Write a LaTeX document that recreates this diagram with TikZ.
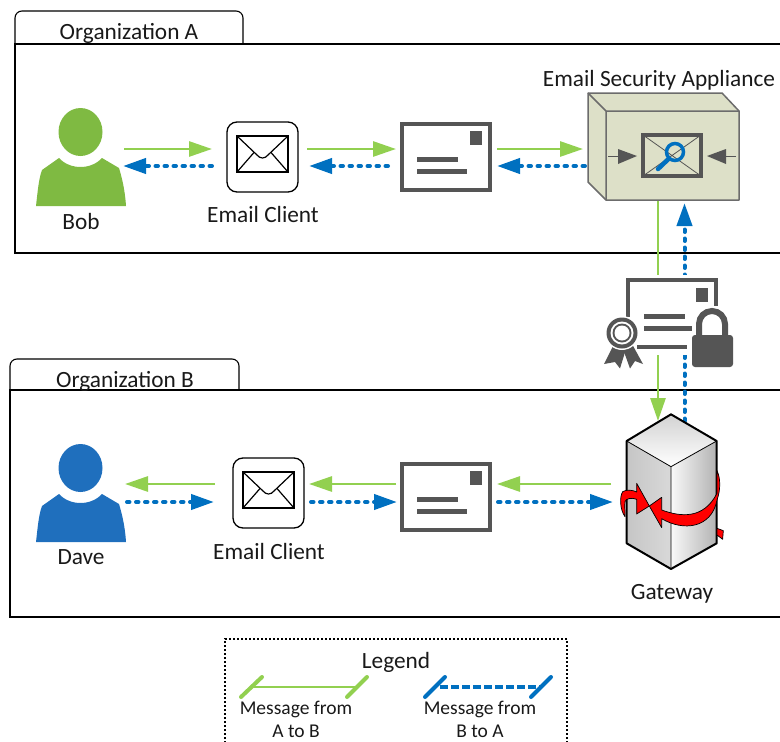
\documentclass[tikz,border=0pt]{standalone}
\usepackage{fontspec}
\setmainfont{Carlito}
\usetikzlibrary{arrows.meta,calc}
\definecolor{agreen}{RGB}{146,208,80}
\definecolor{ablue}{RGB}{0,112,192}
\definecolor{pgreen}{RGB}{127,186,66}
\definecolor{pblue}{RGB}{31,111,189}
\definecolor{dgray}{RGB}{85,85,85}
\definecolor{beige}{RGB}{221,224,200}
\definecolor{txt}{RGB}{25,25,25}
\tikzset{
  ga/.style={draw=agreen,line width=2.8pt,-{Triangle[length=23pt,width=15pt,fill=agreen]}},
  ba/.style={draw=ablue,line width=4pt,line cap=round,dash pattern=on 2.5pt off 6.5pt,-{Triangle[length=23pt,width=15pt,fill=ablue,line cap=butt]}},
  anchorbox/.style={inner sep=0pt,outer sep=0pt,draw=none},
  lab/.style={font=\fontsize{23.3}{26}\selectfont,text=txt,inner sep=0pt},
  leglab/.style={font=\fontsize{19.5}{22}\selectfont,text=txt,inner sep=0pt},
  frame/.style={draw=black,line width=1.1pt},
}
\newcommand{\personicon}[1]{%
  \fill[#1] (80.5,132) ellipse [x radius=22,y radius=24];
  \fill[#1] (36,206) .. controls (38,188) and (39,178) .. (42,170) -- (59,158)
     .. controls (70,170) and (91,170) .. (102,158) -- (119,168)
     .. controls (122,178) and (125,190) .. (126,206) -- cycle;
}
\newcommand{\mailicon}{%
  \draw[black,line width=1.3pt,rounded corners=10pt] (227,122) rectangle (298,192);
  \draw[black,line width=1.4pt] (237,136) rectangle (288,172);
  \draw[black,line width=1.2pt,line join=round] (237,136) -- (257,155) .. controls (260,159) and (265,159) .. (268,155) -- (288,136);
  \draw[black,line width=1.2pt] (237,172) -- (254,152.5) (288,172) -- (271,152.5);
}
\newcommand{\lettericon}{%
  \draw[dgray,line width=4.5pt] (402,124) rectangle (490,190);
  \fill[dgray] (470,131) rectangle (482,145);
  \fill[dgray] (417,157) rectangle (458,162);
  \fill[dgray] (417,169) rectangle (467,174);
}
\begin{document}
\begin{tikzpicture}[x=1pt,y=-1pt]
\path[use as bounding box] (0,0) rectangle (780,742);
\clip (0,0) rectangle (780,742);
% organisation frames
\draw[frame,rounded corners=7pt] (15,44) -- (15,11) -- (243,11) -- (243,44);
\draw[frame] (781,44) -- (15,44) -- (15,253) -- (781,253);
\draw[frame,rounded corners=7pt] (10,390) -- (10,359) -- (239,359) -- (239,390);
\draw[frame] (781,390) -- (10,390) -- (10,617) -- (781,617);
\node[lab] (orgA) at (129,33) {Organization A};
\node[lab] (orgB) at (125,381) {Organization B};
% anchor nodes
\node[anchorbox,minimum width=90pt,minimum height=96pt] (bob) at (81,158) {};
\node[anchorbox,minimum width=71pt,minimum height=70pt] (clA) at (262.5,157) {};
\node[anchorbox,minimum width=92pt,minimum height=70pt] (letA) at (446,157) {};
\node[anchorbox,minimum width=151pt,minimum height=107pt] (esa) at (663.5,146.5) {};
\node[anchorbox,minimum width=90pt,minimum height=96pt] (dave) at (81,494) {};
\node[anchorbox,minimum width=71pt,minimum height=70pt] (clB) at (268.5,493) {};
\node[anchorbox,minimum width=92pt,minimum height=70pt] (letB) at (446,497) {};
\node[anchorbox,minimum width=90pt,minimum height=155pt] (gw) at (672,491.5) {};
% row 1
\draw[ga] ([shift={(-2,-9)}]bob.east) -- ([shift={(-15,-8)}]clA.west);
\draw[ba] ([shift={(-15,9)}]clA.west) -- ([shift={(-3,8)}]bob.east);
\draw[ga] ([shift={(9,-8)}]clA.east) -- ([shift={(-4,-8)}]letA.west);
\draw[ba] ([shift={(-12,9)}]letA.west) -- ([shift={(11,9)}]clA.east);
\draw[ga] ([shift={(5,-8)}]letA.east) -- ([shift={(-5,2.5)}]esa.west);
\draw[ba] ([shift={(-3,19.5)}]esa.west) -- ([shift={(5,9)}]letA.east);
% between organisations
\coordinate (gA) at ($(esa.south)+(-5.5,0)$);
\coordinate (gB) at ($(gw.north)+(-14,7)$);
\coordinate (bA) at ($(esa.south)+(21,3)$);
\coordinate (bB) at ($(gw.north)+(12.5,16)$);
\draw[ga] (gA) -- (gB);
\draw[ba] (bB) -- (bA);
% row 2
\draw[ga] ([shift={(-18,-9)}]clB.west) -- ([shift={(-1,-10)}]dave.east);
\draw[ba] ([shift={(1,8)}]dave.east) -- ([shift={(-19,9)}]clB.west);
\draw[ga] ([shift={(-4,-13)}]letB.west) -- ([shift={(5,-9)}]clB.east);
\draw[ba] ([shift={(7,9)}]clB.east) -- ([shift={(-3,5)}]letB.west);
\draw[ga] ([shift={(-16,-7.5)}]gw.west) -- ([shift={(5,-13)}]letB.east);
\draw[ba] ([shift={(6,5)}]letB.east) -- ([shift={(-14,10.5)}]gw.west);
% people
\personicon{pgreen}
\begin{scope}[yshift=-336pt]\personicon{pblue}\end{scope}
\node[lab] (bobl) at (81,221) {Bob};
\node[lab] (davel) at (81,557) {Dave};
% mail clients
\mailicon
\begin{scope}[xshift=6pt,yshift=-336pt]\mailicon\end{scope}
\node[lab] (cla) at (263,214) {Email Client};
\node[lab] (clb) at (269,551) {Email Client};
% letters
\lettericon
\begin{scope}[yshift=-340pt]\lettericon\end{scope}
% appliance
\begin{scope}[draw=gray!85!black,line width=1.5pt,line join=round]
\filldraw[fill=beige] (588,93) -- (722,93) -- (739,111) -- (739,200) -- (606,200) -- (588,182) -- cycle;
\draw (588,93) -- (606,111) -- (739,111) (606,111) -- (606,200);
\end{scope}
\draw[dgray,line width=.8pt] (643,135) -- (701,176) (701,135) -- (643,176);
\draw[dgray,line width=4pt] (643,135) rectangle (701,176);
\draw[dgray,line width=1pt] (608,156) -- (620,156);
\fill[dgray] (637,156) -- (618,149) -- (618,164) -- cycle;
\draw[dgray,line width=1pt] (736,156) -- (724,156);
\fill[dgray] (707,156) -- (726,149) -- (726,164) -- cycle;
\draw[ablue,line width=3.5pt] (675,152) circle (8.5);
\draw[ablue,line width=4.5pt,line cap=round] (669,158.5) -- (658,169);
\node[lab] (esal) at (659,80.5) {Email Security Appliance};
% certificate
\node[anchorbox,fill=white,minimum width=70pt,minimum height=80pt] (cert) at (670,315) {};
\draw[dgray,line width=4.5pt] (628,317) -- (628,280) -- (716,280) -- (716,306);
\draw[dgray,line width=3.5pt] (637,347) -- (687,347);
\fill[dgray] (696,288) rectangle (708,302);
\fill[dgray] (644,314) rectangle (685,319);
\fill[dgray] (644,326) rectangle (692,331);
\fill[dgray] (613.5,345) -- (604,364) -- (615,362) -- (620,368.5) -- (626,349) -- cycle;
\fill[dgray] (623,349) -- (630,368.5) -- (635,361) -- (643,364) -- (632,344) -- cycle;
\fill[white] (622,333) circle (17);
\fill[dgray] (622,333) circle (15.5);
\fill[white] (622,333) circle (11.5);
\fill[dgray] (622,333) circle (9.5);
\fill[white] (622,333) circle (7.5);
\fill[white,rounded corners=4pt] (689,332) rectangle (736,370);
\draw[white,line width=10pt] (699,338) -- (699,324) arc[start angle=180,end angle=360,radius=13] -- (725,338);
\draw[dgray,line width=6pt] (699,338) -- (699,324) arc[start angle=180,end angle=360,radius=13] -- (725,338);
\fill[dgray,rounded corners=3pt] (692,335) rectangle (733,367);
% gateway
\begin{scope}[shift={(590,400)},x=.3333pt,y=-.3333pt]
\shade[top color=gray!35,bottom color=white] (243,43) -- (380,123) -- (243,200) -- (110,123) -- cycle;
\path[left color=gray!45,middle color=gray!5,right color=gray!30] (110,123) -- (243,200) -- (243,507) -- (110,430) -- cycle;
\path[left color=gray!5,right color=gray!60] (243,200) -- (380,123) -- (380,430) -- (243,507) -- cycle;
\draw[black,line width=.8pt] (110,123) -- (243,200) -- (380,123) (243,200) -- (243,507);
\draw[black,line width=2pt,line join=round] (243,43) -- (380,123) -- (380,430) -- (243,507) -- (110,430) -- (110,123) -- cycle;
\begin{scope}[line width=.7pt,draw=black,fill=red,line join=round]
\filldraw (381,385) -- (400,392) -- (398,418) -- (381,405) -- cycle;
\filldraw (381,212) .. controls (392,235) and (392,270) .. (381,300) .. controls (365,385) and (280,395) .. (215,356) -- (215,383) -- (178,318) -- (215,292) -- (215,330) .. controls (270,350) and (340,360) .. (381,280) -- cycle;
\filldraw (178,318) -- (140,342) -- (140,298) .. controls (125,292) and (108,295) .. (105,305) .. controls (103,320) and (106,335) .. (105,350) .. controls (90,330) and (88,290) .. (98,275) .. controls (110,268) and (128,270) .. (140,276) -- (140,250) -- cycle;
\end{scope}
\end{scope}
\node[lab] (gwl) at (672,594) {Gateway};
% legend
\draw[black,line width=2pt,dash pattern=on 2pt off 2pt] (225,743) -- (225,639) -- (567,639) -- (567,743);
\node[lab] (leg) at (396,662) {Legend};
\coordinate (l1) at (252,687); \coordinate (l2) at (357,687);
\coordinate (l3) at (440,687); \coordinate (l4) at (540,687);
\draw[agreen,line width=2.8pt] (l1) -- (l2);
\draw[agreen,line width=4pt,line cap=round] (241,697) -- (262,677) (347,697) -- (367,677);
\draw[ablue,line width=4pt,dash pattern=on 8pt off 3pt] (l3) -- (l4);
\draw[ablue,line width=4pt,line cap=round] (425,697) -- (445,677) (531,697) -- (551,677);
\node[leglab] (m1) at (296,709) {Message from};
\node[leglab] (m2) at (296,731.5) {A to B};
\node[leglab] (m3) at (480,709) {Message from};
\node[leglab] (m4) at (480,731.5) {B to A};
\end{tikzpicture}
\end{document}
